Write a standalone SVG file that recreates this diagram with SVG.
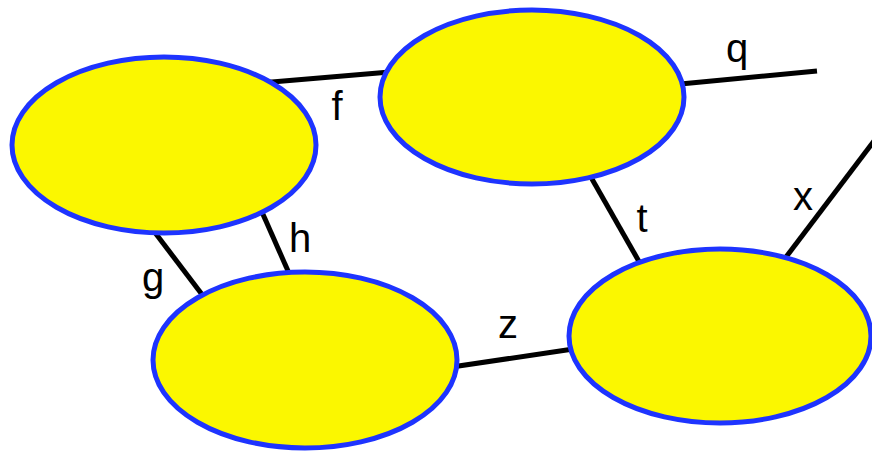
<svg xmlns="http://www.w3.org/2000/svg" width="872" height="452" viewBox="0 0 872 452">
<style>
.edge{stroke:#000;stroke-width:5;fill:none}
.node{fill:#fbf700;stroke:#1e34ff;stroke-width:5}
.lbl{font-family:"Liberation Sans",Arial,sans-serif;font-size:40px;fill:#000;text-anchor:middle}
</style>
<rect width="872" height="452" fill="#fff"/>
<g id="connectors">
<line class="edge" x1="260" y1="83" x2="390" y2="72"/>
<line class="edge" x1="670" y1="85" x2="817" y2="71"/>
<line class="edge" x1="780" y1="265" x2="874" y2="141"/>
<line class="edge" x1="588" y1="172" x2="645" y2="272"/>
<line class="edge" x1="258" y1="203" x2="292" y2="280"/>
<line class="edge" x1="150" y1="226" x2="210" y2="305"/>
<line class="edge" x1="445" y1="368" x2="580" y2="348"/>
<text class="lbl" x="337" y="120">f</text>
<text class="lbl" x="737" y="62">q</text>
<text class="lbl" x="803" y="210">x</text>
<text class="lbl" x="642" y="232">t</text>
<text class="lbl" x="300" y="252">h</text>
<text class="lbl" x="153" y="291">g</text>
<text class="lbl" x="508" y="338">z</text>
</g>
<g id="n1"><ellipse class="node" cx="164" cy="145" rx="152" ry="88"/></g>
<g id="n2"><ellipse class="node" cx="532" cy="97" rx="152" ry="87"/></g>
<g id="n3"><ellipse class="node" cx="305" cy="360" rx="152" ry="88"/></g>
<g id="n4"><ellipse class="node" cx="720" cy="336" rx="151" ry="87"/></g>
</svg>
